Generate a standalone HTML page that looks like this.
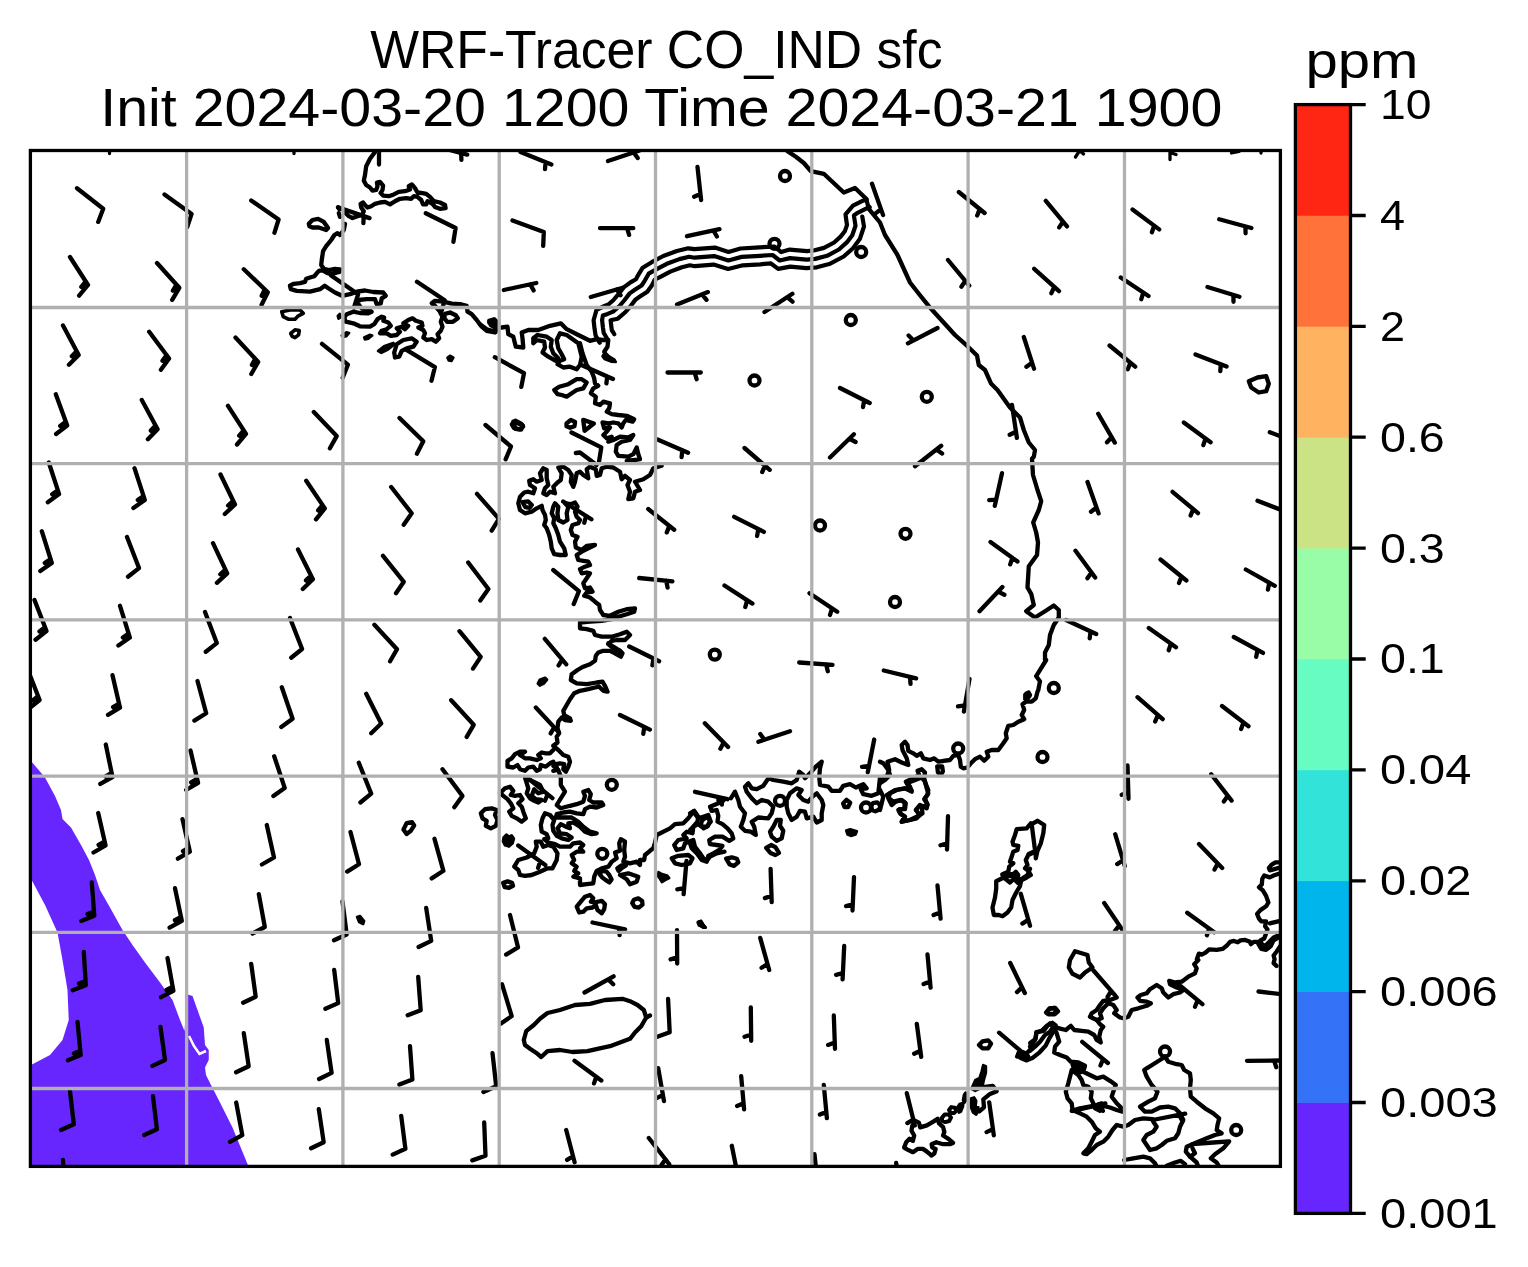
<!DOCTYPE html><html><head><meta charset="utf-8"><title>WRF-Tracer CO_IND sfc</title>
<style>html,body{margin:0;padding:0;background:#fff}svg{display:block}text{font-family:"Liberation Sans",sans-serif;fill:#000}svg{will-change:transform}</style></head><body>
<svg width="1528" height="1267" viewBox="0 0 1528 1267">
<rect width="1528" height="1267" fill="#fff"/>
<defs><clipPath id="c"><rect x="30.4" y="150.5" width="1250" height="1015.9"/></clipPath></defs>
<g clip-path="url(#c)">
<polygon points="31,761 45,777.5 55,796 61,810 62.5,819 71,827.5 81,845 89,860 95,875 100,890 110,907.5 122.5,930 132.5,945 145,962.5 160,982.5 172.5,1000 180,1020 184.5,1031 186,1012 186,994 192.5,996 197.5,1010 203.75,1027.5 205,1045 208.75,1050 208.75,1060 205,1067.5 206,1075 211,1085 220,1102.5 232.5,1127.5 247.5,1164 250,1170 20,1170 20,1066 31,1065 50,1055 62.5,1040 68.75,1020 67.5,990 62.5,960 57.5,932.5 45,905 31,878.75 20,860 20,750" fill="#6826fe"/>
<path d="M189,1036 L194,1046 L199.5,1054 L206,1051" stroke="#fff" stroke-width="2.5" fill="none"/>
<path d="M375,151.9 L370,158.8 L366.2,166.2 L365,175 L363.8,180.6 L366.2,185 L370,187.5 L372.5,190.6 L376.2,190 L377.5,186.2 L376.9,182.5 L380,181.9 L383.1,185.6 L382.5,190 L380.6,193.1 L383.1,195.6 L388.8,196.2 L393.8,194.4 L398.8,191.9 L405,191.2 L410,189.4 L408.8,186.2 L411.9,184.4 L415,188.1 L417.5,192.5 L422.5,193.1 L426.2,193.8 L430,196.9 L433.8,201.2 L440,202.5 L445,205 L445.6,208.1 L440,208.8 L435,206.9 L432.5,203.8 L427.5,201.2 L426.2,204.4 L423.1,204.4 L421.2,200 L417.5,196.9 L413.8,196.2 L411.2,198.8 L406.2,198.1 L400,198.8 L395,201.2 L390,204.4 L385,201.9 L380,202.5 L375,203.8 L371.2,206.2 L367.5,207.5 L365,205 L363.1,202.5 L360.6,203.8 L361.2,207.5 L363.8,211.2 L361.9,215 L357.5,216.2 L352.5,218.1 L348.8,216.2 L345,212.5 L343.8,210" fill="none" stroke="#000" stroke-width="4.3" stroke-linejoin="round" stroke-linecap="round"/>
<path d="M338.1,207.5 L339.4,209.4" fill="none" stroke="#000" stroke-width="4.3" stroke-linejoin="round" stroke-linecap="round"/>
<path d="M338.8,213.1 L340,216.9" fill="none" stroke="#000" stroke-width="4.3" stroke-linejoin="round" stroke-linecap="round"/>
<path d="M345,223.8 L343.8,230 L340,235 L337.5,233.1 L334.4,235 L331.2,240 L326.2,246.2 L323.1,251.2 L321.9,258.8 L321.2,265 L323.8,268.8 L328.8,270 L335,268.8 L340,269.4 L339.4,271.9 L332.5,273.8 L327.5,273.1 L323.1,270.6 L319.4,270.6 L316.9,273.1 L314.4,276.2 L310,277.5 L306.2,278.8 L305,281.9 L300,283.1 L293.8,283.8 L290,285.6" fill="none" stroke="#000" stroke-width="4.3" stroke-linejoin="round" stroke-linecap="round"/>
<path d="M308.8,223.8 L312.5,220 L318.1,218.8 L323.8,221.9 L328.1,228.1 L326.2,230 L318.8,227.5 L312.5,227.5 L309.4,226.2Z" fill="none" stroke="#000" stroke-width="4.3" stroke-linejoin="round" stroke-linecap="round"/>
<path d="M290,285.8 L290.8,289.2 L296.7,290.8 L310,291.7 L320,289.2 L324.7,285.8 L328.3,288.3 L335,292.5 L342,295.8 L350,294.2 L356.7,291.7 L365,290.5 L373.3,292 L383.3,292.5 L385.8,295.8 L381.7,298.3 L380.8,303.3 L376.7,304.2 L375,299.2 L366.7,299.2 L358.3,300 L358.3,304.2 L361.7,308.3 L368.3,310 L371.7,311.7 L368.3,313.3 L360,313 L353.3,311.7 L346.7,314.2 L344.2,317.5 L345.8,321.7 L353.3,323.3 L360,326.3 L370,326.7 L374.2,324.2 L377.5,319.2 L381.7,316.7 L384.2,317.5 L383.3,320.8 L388.3,322.5 L390.8,325.8 L386.7,329.2 L381.7,330.8 L380,333.3 L386.7,333.3 L390.8,335.8 L396.7,335 L400,331.7 L396.7,328.3 L401.7,326.7 L405,329.2 L408.3,325.8 L403.3,323.3 L408.3,320 L412.5,318.3 L415.8,320.8 L421.7,322.5 L422.5,325.8 L418.3,327.5 L423.3,330 L425,333.3 L423.3,337.5 L426.7,340 L431.7,339.2 L435.8,341.7 L439.2,338.3 L437.5,334.2 L440.8,330.8 L442.5,326.7 L440.8,321.7 L442.5,316.7 L440,311.7 L435,305.8 L431.7,303.3 L435,300.8 L443.3,301.7 L451.7,303.7 L460,304.2 L466.7,305.8 L467.5,311.7 L471.7,314.2 L476.7,320 L481.7,326.7 L486.7,330.8 L495,332.5 L496.7,328.3 L490.8,325 L489.2,320.8 L494.2,319.2 L498.3,323.3" fill="none" stroke="#000" stroke-width="4.3" stroke-linejoin="round" stroke-linecap="round"/>
<path d="M445,313.9 L450.1,312.5 L455.8,315.3 L457.9,318.2 L452.9,321.8 L447.2,321.8 L444.3,318.2Z" fill="none" stroke="#000" stroke-width="4.3" stroke-linejoin="round" stroke-linecap="round"/>
<path d="M396.7,344.2 L403.3,340 L411.7,338.3 L416.7,341.7 L413.3,346.7 L406.7,348.3 L401.7,350.8 L399.2,356.7 L395,357.5 L394.2,352.5Z" fill="none" stroke="#000" stroke-width="4.3" stroke-linejoin="round" stroke-linecap="round"/>
<path d="M281.7,311.7 L290,310 L300,310 L303.3,313.3 L298.3,315.8 L295,319.2 L288.3,319.2 L283.3,316.7Z" fill="none" stroke="#000" stroke-width="3.6" stroke-linejoin="round" stroke-linecap="round"/>
<path d="M290.7,333.4 L295,329.8 L299.3,330.5 L298.6,334.8 L295,337.7 L292.2,336.3Z" fill="none" stroke="#000" stroke-width="3.6" stroke-linejoin="round" stroke-linecap="round"/>
<path d="M511.8,424.3 L515.4,420.8 L521.1,423.6 L523.2,426.5 L519.6,429.4 L513.9,427.9Z" fill="none" stroke="#000" stroke-width="4.3" stroke-linejoin="round" stroke-linecap="round"/>
<path d="M378,350.9 L384,346.2 L393.3,342.9 L394.6,344.2 L388,349.6 L381.3,352.9Z" fill="#000" stroke="#000" stroke-width="2.6" stroke-linejoin="round" stroke-linecap="round"/>
<path d="M364.2,337.4 L369.6,334.8 L372.2,335.4 L368.2,338.8 L364.9,339.4Z" fill="#000" stroke="#000" stroke-width="2.6" stroke-linejoin="round" stroke-linecap="round"/>
<path d="M341.7,335.6 L346.4,332.3 L349.1,333 L346.4,336.3 L343.1,337Z" fill="#000" stroke="#000" stroke-width="2.6" stroke-linejoin="round" stroke-linecap="round"/>
<path d="M447.4,357.7 L450,355.7 L453.4,357.7 L451.4,361 L448.7,360.4Z" fill="#000" stroke="#000" stroke-width="2.6" stroke-linejoin="round" stroke-linecap="round"/>
<path d="M337.8,316 L339.8,314 L340.5,317.3 L338.5,318.6Z" fill="#000" stroke="#000" stroke-width="2.6" stroke-linejoin="round" stroke-linecap="round"/>
<path d="M480,324.2 L486.7,329.2 L495.8,331.7 L496.7,325.8 L492.5,320.8 L489.2,322.5" fill="none" stroke="#000" stroke-width="4.3" stroke-linejoin="round" stroke-linecap="round"/>
<path d="M501.7,327.5 L507.5,326.7 L508.3,334.2 L513.3,336.7 L515.8,346.7 L523.3,347.5 L522.5,338.3 L521.7,332.5 L528.3,330 L538.3,330 L550,325.8 L560.8,323.3 L566.7,329.2 L578.3,335 L590,340.8 L596.7,339.2" fill="none" stroke="#000" stroke-width="4.3" stroke-linejoin="round" stroke-linecap="round"/>
<path d="M596.7,339.2 L602.5,340 L608.3,340 L607.5,346.7 L604.2,351.7" fill="none" stroke="#000" stroke-width="4.3" stroke-linejoin="round" stroke-linecap="round"/>
<path d="M605.1,352.3 L602.5,356.3 L604.5,359 L611.1,361.6 L615.8,362 L614.5,359.6 L609.1,356.3Z" fill="#000" stroke="#000" stroke-width="2.6" stroke-linejoin="round" stroke-linecap="round"/>
<path d="M560,333.3 L566.7,335 L578.3,343.3 L581.7,356.7 L580,365 L576.7,369.2 L570,366.7 L563.3,367.5 L557.5,364.2 L560,360.8 L564.2,359.2 L561.7,354.2 L558.3,348.3 L556.7,340Z" fill="none" stroke="#000" stroke-width="4.3" stroke-linejoin="round" stroke-linecap="round"/>
<path d="M533.3,338.3 L537.5,335 L546.7,336.7 L551.7,340 L550.8,346.7 L553.3,353.3 L558.3,358.3 L555.8,360.8 L548.3,356.7 L542.5,352.5 L545,347.5 L544.2,341.7 L536.7,340 L533.3,343.3Z" fill="none" stroke="#000" stroke-width="4.3" stroke-linejoin="round" stroke-linecap="round"/>
<path d="M554.2,390 L559.2,386.7 L568.3,384.2 L576.7,379.2 L581.7,379.2 L586.7,382.5 L583.3,388.3 L576.7,390 L571.7,393.3 L566.7,396.7 L561.7,395 L557.5,394.2Z" fill="none" stroke="#000" stroke-width="4.3" stroke-linejoin="round" stroke-linecap="round"/>
<path d="M580,343.3 L582.5,353.3 L586.7,365 L591.7,371.7 L594.2,378.3 L595,383.3 L598.3,385.8 L593.3,388.3 L590.8,393.3 L595.8,396.7 L595,403.3 L600,405 L603.3,401.7 L610,403.3 L609.2,408.3 L606.7,411.7 L611.7,414.2 L618.3,415 L626.7,415.8 L634.2,419.2 L632.5,421.7 L625.8,420 L623.3,423.3 L621.7,427.5 L618.3,423.3 L613.3,422.5 L608.3,423.3 L602.5,422.5 L604.2,428.3 L610,427.5 L606.7,431.7 L603.3,435 L606.7,438.3 L611.7,436.7 L608.3,441.7 L613.3,440 L620,436.7 L628.3,437.5 L633.3,435 L630,440 L621.7,441.7 L616.7,445 L615.8,451.7 L618.3,455.8 L628.3,456.7 L633.3,454.2 L636.7,447.5 L638.3,454.2 L640,459.2 L634.2,460 L626.7,460.8" fill="none" stroke="#000" stroke-width="4.3" stroke-linejoin="round" stroke-linecap="round"/>
<path d="M566.5,423.5 L570.8,419.9 L575.1,422 L574.4,426.3 L570.1,427.8 L566.5,426.3Z" fill="none" stroke="#000" stroke-width="4.3" stroke-linejoin="round" stroke-linecap="round"/>
<path d="M583.2,419.9 L593.9,423.5 L584.6,430.7Z" fill="none" stroke="#000" stroke-width="4.3" stroke-linejoin="round" stroke-linecap="round"/>
<path d="M513.3,421.6 L522.6,425.2 L521.2,429.5 L515.4,428.8Z" fill="none" stroke="#000" stroke-width="4.3" stroke-linejoin="round" stroke-linecap="round"/>
<path d="M661.7,465.8 L653.3,468.3 L650,475 L643.3,479.2 L635,481.7 L640,490 L635,491.7 L633.3,498.3 L628.3,499.2 L630,491.7 L627.5,485 L630,480 L625,475.8 L621.7,479.2 L620,471.7 L613.3,467.5 L606.7,466.7 L601.7,468.3 L600,475 L596.7,475.8 L595.8,469.2 L590,466.7 L586.7,469.2 L588.3,478.3 L583.3,475 L580,471.7 L576.7,473.3 L575,481.7 L573.3,486.7 L570.8,481.7 L571.7,475 L568.3,470 L563.3,466.7 L558.3,467.5 L561.7,473.3 L560.8,480 L557.5,482.5 L553.3,486.7 L555,493.3 L550,491.7 L546.7,495 L543.3,493.3 L545,488.3 L548.3,485 L546.7,478.3 L546.7,470 L543.3,468.3 L540,473.3 L541.7,480 L536.7,481.7 L533.3,479.2 L529.2,480.8 L530,485 L535,488.3 L533.3,493.3 L528.3,491.7 L524.2,492.5 L520,496.7 L518.3,503.3 L520,510 L525,513.3 L531.7,511.7 L536.7,508.3 L541.7,505.8 L542.5,510 L545,515 L545.8,520 L544.2,525 L546.7,528.3 L549.2,535 L550.8,541.7 L551.7,548.3 L554.2,554.2 L560,555 L565.8,555 L564.2,548.3 L560,541.7 L558.3,535 L555.8,528.3 L553.3,523.3 L554.2,518.3 L551.7,513.3 L553.3,506.7 L555,503.3 L558.3,506.7 L557.5,513.3 L558.3,520 L563.3,522.5 L567.5,520 L566.7,513.3 L568.3,506.7 L565,503.3 L570.8,504.2 L575,502.5 L577.5,506.7 L575,511.7 L576.7,516.7 L580,520 L578.3,523.3 L572.5,525 L570.8,530 L572.5,535 L577.5,536.7 L575,541.7 L575.8,547.5 L581.7,550 L586.7,545.8 L595,545 L588.3,548.3 L581.7,551.7 L576.7,555 L578.3,560 L583.3,560.8 L588.3,561.7 L590,565 L585,566.7 L580,569.2 L581.7,573.3 L586.7,572.5 L590,573.3 L586.7,578.3 L583.3,583.3 L585,588.3 L590,587.5 L592.5,591.7 L586.7,592.5 L584.2,595.8 L590,597.5 L595,601.7 L599.2,605 L600,610 L603.3,615 L610,615.8 L618.3,611.7 L626.7,609.2 L635,608.3 L634.2,611.7 L626.7,614.2 L618.3,616.7 L611.7,619.2 L601.7,620.8 L590,621.7 L580,622.5 L580,628.3 L586.7,629.2 L593.3,630.8 L595,635 L601.7,636.7 L611.7,636.7 L620,634.2 L626.7,631.7 L630,635 L625,640 L616.7,640 L611.7,640.8 L608.3,644.2 L613.3,648.3 L620,651.7" fill="none" stroke="#000" stroke-width="4.3" stroke-linejoin="round" stroke-linecap="round"/>
<path d="M522.5,502.1 L528.2,501.4 L531.8,505 L529.6,507.8 L525.4,507.1Z" fill="none" stroke="#000" stroke-width="4.3" stroke-linejoin="round" stroke-linecap="round"/>
<path d="M620,650.8 L622.5,653.3 L620.8,656.7 L615,653.3 L610,650.8 L603.3,650.8 L598.3,652.5 L595.8,655.8 L595,660.8 L590,664.2 L583.3,666.7 L577.5,670 L571.7,674.2 L570.8,680 L576.7,683.3 L586.7,684.2 L596.7,682.5 L602.5,681.7 L605,685.8 L607.5,691.7 L603.3,690.8 L599.2,686.7 L595,687.5 L588.3,689.2 L580,690.8 L574.2,693.3 L570,699.2 L566.7,705 L563.3,710.8 L564.2,715 L570,718.3 L570.8,720.8 L565,720 L561.7,717.5 L558.3,721.7 L557.5,728.3 L559.2,733.3 L556.7,736.7 L557.5,742.5 L553.3,745.8 L558.3,750 L563.3,755 L568.3,756.7 L570,761.7 L568.3,766.7 L565.8,771.7 L563.3,769.2 L564.2,764.2 L560,763.3 L555.8,764.2 L557.5,770 L553.3,770.8" fill="none" stroke="#000" stroke-width="4.3" stroke-linejoin="round" stroke-linecap="round"/>
<path d="M608.3,643.3 L613.3,646.7 L620,650.8" fill="none" stroke="#000" stroke-width="4.3" stroke-linejoin="round" stroke-linecap="round"/>
<path d="M553.3,750 L550,753.3 L545.8,753.3 L541.7,752.5 L538.3,755 L540.8,758.3 L536.7,760 L530,758.3 L525,758.3 L520,755 L525,751.7 L520,751.7 L515,754.2 L511.7,758.3 L507.5,760.8 L507.5,766.7 L513.3,767.5 L517.5,765 L520,769.2 L525,770.8 L528.3,767.5 L533.3,766.7 L536.7,770.8 L540,769.2 L540.8,765 L545.8,766.7 L550,763.3 L553.3,761.7" fill="none" stroke="#000" stroke-width="4.3" stroke-linejoin="round" stroke-linecap="round"/>
<path d="M537.8,683.7 L539.8,679.7 L545.1,677.7 L547.1,679.7 L543.8,683.7 L539.8,685.7Z" fill="#000" stroke="#000" stroke-width="2.6" stroke-linejoin="round" stroke-linecap="round"/>
<path d="M599.7,342.8 L598.7,341.1 L595.6,335.5 L594.5,328.4 L593.6,320.2 L596.5,309.9 L604.6,306 L608.4,304.5 L613.5,300 L617.6,295.2 L623.7,287.4 L630.5,282.4 L635.9,279.2 L637.4,276.4 L642.7,267.7 L651.7,262.2 L663.3,256 L676.9,251 L688.3,248.3 L694.4,249.2 L714.9,247.6 L728.5,252 L740.5,248.5 L759.5,247.3 L774.6,246.7 L781.2,252.1 L789.7,249.6 L806.9,251.2 L813.6,250.5 L824,247.9 L834.1,242.5 L840.6,236.6 L844.8,231.3 L847,225.1 L845.5,214.4 L853,205.7 L863,200.7 L866.6,199.3" fill="none" stroke="#000" stroke-width="4.2" stroke-linejoin="round" stroke-linecap="round"/>
<path d="M607,338.5 L606,336.8 L603.7,332.9 L602.9,327.3 L602.1,320.2 L602.9,315.5 L607.6,313.9 L613.1,311.6 L619.5,306 L624.2,300.5 L629.7,293.4 L635.2,289.5 L641.6,285.5 L644.7,280.8 L648.7,273.7 L655.8,269.7 L666.8,263.8 L679.4,259.1 L689.1,256.8 L694.6,257.7 L714.2,256.1 L728.3,260.5 L741.7,256.9 L760,255.8 L772.6,255 L779.7,260.5 L790,258.1 L806.6,259.7 L815.2,258.9 L827.1,255.8 L838.9,249.5 L846.8,242.4 L852.3,235.2 L855.5,225.8 L853.9,215.5 L857.1,213.1 L866.6,208.4 L869.7,207.2" fill="none" stroke="#000" stroke-width="4.2" stroke-linejoin="round" stroke-linecap="round"/>
<path d="M614.3,334.2 L613.3,332.5 L611.8,330.3 L611.3,326.2 L610.6,320.2 L617.8,318.7 L625.5,312 L630.8,305.8 L635.7,299.4 L639.9,296.6 L647.3,291.8 L652,285.2 L654.7,279.7 L659.9,277.2 L670.3,271.6 L681.9,267.2 L689.9,265.3 L694.8,266.2 L713.5,264.6 L728.1,269 L742.9,265.3 L760.5,264.3 L770.6,263.3 L778.2,268.9 L790.3,266.6 L806.3,268.2 L816.8,267.3 L830.2,263.7 L843.7,256.5 L853,248.2 L859.8,239.1 L864,226.5 L862.3,216.6" fill="none" stroke="#000" stroke-width="4.2" stroke-linejoin="round" stroke-linecap="round"/>
<path d="M787.5,151.2 L796.2,157 L803.8,163 L810.8,171.2 L823.8,173.8 L843.8,192.5 L855,188 L866.2,198.8 L868.8,208.8 L880,222.5 L885,235 L897.5,255 L910,282.5 L918.8,293.8 L928.8,306.2 L955,335 L967.5,346.2 L977,355.5 L978.8,365 L985,370 L991.2,383.8 L997.5,390 L1010,407.5 L1020,417.5 L1023.8,430 L1028.8,442.5 L1035,450 L1033.8,456.8 L1032,458.8 L1033,475 L1037.5,490 L1041.2,501.2 L1038.8,510 L1033.2,522.5 L1036.2,532.5 L1038,542.5 L1037,555 L1028.8,566.2 L1027.5,587.5 L1031.2,593.8 L1033.8,605 L1026.2,611.2 L1035,617.5 L1045,611.2 L1053.8,605.5 L1058.8,610 L1058.8,617.5 L1053.8,625 L1050,635 L1048.8,645 L1045,652.5 L1045,660 L1046.2,660 L1036.2,676.2 L1040,681.2 L1038.3,690 L1037.5,691.7 L1035.8,698.3 L1031.7,701.7 L1025.8,701.7 L1022.5,704.2 L1024.2,710 L1021.7,715 L1024.2,719.2 L1018.3,721.7 L1013.3,725 L1008.3,725.8 L1005.8,733.3 L1006.7,738.3 L1003.3,743.3 L998.3,750 L991.7,750 L986.7,751.7 L988.3,756.7 L984.2,760.8 L980,756.7 L975,759.2 L970.8,763.3 L967.5,767.5 L963.3,768.3 L960.8,766.7 L960,760 L958.3,755 L953.3,755.8 L950,760 L943.3,760.8 L944.5,760.8 L938.3,761.7 L934.2,758.3 L930,760 L923.3,758.3 L920.8,753.3 L916.7,755.8 L913.3,753.3 L908.3,750.8 L907.5,745 L905,741.7 L901.7,745 L902.5,750 L906.7,758.3 L908.3,765 L901.7,762.5 L895,759.2 L887.5,761.7 L889.2,770 L886.7,776.7 L880,777.5 L879.2,785 L878.3,793.3 L871.7,795.8 L863.3,794.2 L860.8,789.2 L866.7,788.3 L863.3,784.2 L855.8,787.5 L850,784.2 L843.3,785.8 L840,790.8 L831.7,790.8 L828.3,786.7 L820,785 L819.2,776.7 L820,768.3 L821.7,761.7 L815.8,766.7 L810,773.3 L805,778.3 L803.3,775 L799.2,771.7 L796.7,780 L791.7,783.3 L783.3,781.7 L773.3,780 L768.3,778.3 L766.7,780.8 L763.3,785.8 L756.7,789.2 L751.7,788.3 L748.3,783.3 L745,786.7 L746.7,791.7 L751.7,798.3 L756.7,803.3 L761.7,800 L768.3,801.7 L773.3,806.7 L771.7,813.3 L768.3,818.3 L758.3,817.5 L751.7,821.7 L754.2,826.7 L755.8,835 L750.8,831.7 L745,830.8 L740.8,826.7 L743.3,820 L745,813.3 L740,806.7 L738.3,800 L735,791.7 L730.8,798.3" fill="none" stroke="#000" stroke-width="4.3" stroke-linejoin="round" stroke-linecap="round"/>
<path d="M1024.4,694.3 L1028.4,692.3 L1030.4,696.3 L1027.4,700.3 L1024.4,699.3Z" fill="#000" stroke="#000" stroke-width="2.6" stroke-linejoin="round" stroke-linecap="round"/>
<path d="M690,813.3 L694.2,810.8 L698.3,816.7 L697.5,821.7 L693.3,826.7 L690,830" fill="none" stroke="#000" stroke-width="4.3" stroke-linejoin="round" stroke-linecap="round"/>
<path d="M702.2,820.4 L706.5,816.8 L710,820.4 L707.9,826.1 L703.6,828.3 L700.7,824.7Z" fill="none" stroke="#000" stroke-width="4.3" stroke-linejoin="round" stroke-linecap="round"/>
<path d="M711.7,810.8 L716.7,810 L718.3,815.8 L717.5,821.7 L722.5,824.2 L727.5,828.3 L731.7,833.3 L733.3,838.3 L729.2,840.8 L722.5,836.7 L715,836.7 L709.2,840 L710,844.2 L716.7,845 L722.5,845.8 L719.2,850 L713.3,853.3 L708.3,855.8 L706.7,861.7 L701.7,860 L696.7,853.3 L691.7,848.3 L690,843.3" fill="none" stroke="#000" stroke-width="4.3" stroke-linejoin="round" stroke-linecap="round"/>
<path d="M726.1,858.7 L731.8,857.3 L736.8,858.7 L738.3,862.3 L734,865.9 L729.7,864.5Z" fill="none" stroke="#000" stroke-width="4.3" stroke-linejoin="round" stroke-linecap="round"/>
<path d="M786.7,800 L790,793.3 L796.7,788.3 L801.7,790 L798.3,795 L803.3,800 L808.3,801.7 L812.5,796.7 L816.7,793.3 L821.7,800 L823.3,805 L821.7,813.3 L821.7,820 L816.7,822.5 L813.3,816.7 L806.7,818.3 L805,811.7 L800,810.8 L796.7,816.7 L791.7,820 L788.3,813.3 L786.7,806.7Z" fill="none" stroke="#000" stroke-width="4.3" stroke-linejoin="round" stroke-linecap="round"/>
<path d="M776.7,820 L780.8,820 L780,825.8 L783.3,830.8 L781.7,838.3 L776.7,840.8 L771.7,836.7 L770,831.7 L773.3,826.7Z" fill="none" stroke="#000" stroke-width="4.3" stroke-linejoin="round" stroke-linecap="round"/>
<path d="M766.1,847.9 L771.1,845 L775.4,847.2 L779,852.9 L775.4,855 L770.4,852.9Z" fill="none" stroke="#000" stroke-width="4.3" stroke-linejoin="round" stroke-linecap="round"/>
<path d="M886.7,795 L895,790 L905,788.3 L911.7,790.8 L906.7,783.3 L913.3,780.8 L921.7,777.5 L925,781.7 L926.7,788.3 L928.3,793.3 L925,798.3 L927.5,805 L921.7,807.5 L922.5,813.3 L916.7,816.7 L910,820 L901.7,821.7 L905,816.7 L900,813.3 L898.3,810 L904.2,808.3 L905,802.5 L900,800 L893.3,801.7 L889.2,798.3Z" fill="none" stroke="#000" stroke-width="4.3" stroke-linejoin="round" stroke-linecap="round"/>
<path d="M843.1,803.4 L846.6,799.8 L850.2,802.7 L848.1,807 L844.5,807Z" fill="none" stroke="#000" stroke-width="4.3" stroke-linejoin="round" stroke-linecap="round"/>
<path d="M871.2,806.7 L872.9,803.1 L877.2,802.4 L880.4,805.3 L879.4,809.6 L875.4,811.3 L872.2,810.3Z" fill="none" stroke="#000" stroke-width="4.3" stroke-linejoin="round" stroke-linecap="round"/>
<path d="M846.2,830.5 L850.2,829.2 L856.9,831.2 L855.6,834.5 L850.9,835.9 L847.6,834.5Z" fill="#000" stroke="#000" stroke-width="2.6" stroke-linejoin="round" stroke-linecap="round"/>
<path d="M697.6,922.2 L700.9,920.9 L702.9,924.2 L705.6,927.6 L702.3,926.9 L698.9,925.6Z" fill="#000" stroke="#000" stroke-width="2.6" stroke-linejoin="round" stroke-linecap="round"/>
<path d="M711.7,810.8 L710,806.7 L718.3,803.3 L723.3,800.8 L718.3,800" fill="none" stroke="#000" stroke-width="4.3" stroke-linejoin="round" stroke-linecap="round"/>
<path d="M937.2,766.5 L942.2,766.5 L942.9,771.5 L940.7,775.1 L937.9,772.2Z" fill="none" stroke="#000" stroke-width="4.3" stroke-linejoin="round" stroke-linecap="round"/>
<path d="M905.8,781.7 L913.3,778.3 L919.2,775 L917.5,770.8 L921.7,769.2 L925,772.5 L924.2,778.3 L925.8,784.2 L928.3,790 L927.5,795 L924.2,799.2 L927.5,804.2 L926.7,808.3 L920,805 L915.8,810 L920,815 L916.7,818.3 L910,820 L901.7,821.7 L905,816.7 L900.8,814.2 L899.2,809.2 L905,809.2 L905.8,803.3 L901.7,800 L895.8,801.7 L891.7,805 L888.3,798.3 L890,793.3 L896.7,790 L905,788.3 L911.7,791.7 L910,786.7Z" fill="none" stroke="#000" stroke-width="4.3" stroke-linejoin="round" stroke-linecap="round"/>
<path d="M880,761.7 L883.3,763.3 L888.3,770 L890,775 L885,780 L880,783.3" fill="none" stroke="#000" stroke-width="4.3" stroke-linejoin="round" stroke-linecap="round"/>
<path d="M880,790 L883.3,796.7 L881.7,803.3 L880,810" fill="none" stroke="#000" stroke-width="4.3" stroke-linejoin="round" stroke-linecap="round"/>
<path d="M1025.6,692.9 L1028.9,691.5 L1030.9,694.9 L1028.2,696.9 L1025.8,695.5Z" fill="#000" stroke="#000" stroke-width="2.6" stroke-linejoin="round" stroke-linecap="round"/>
<path d="M1031.7,824.2 L1037.5,820.8 L1044.2,825 L1043.3,833.3 L1040.8,843.3 L1037.5,850.8 L1035.8,858.3" fill="none" stroke="#000" stroke-width="4.3" stroke-linejoin="round" stroke-linecap="round"/>
<path d="M1030.8,823.3 L1026.7,828.3 L1016.7,829.2 L1015,835 L1012.5,841.7 L1013.3,845 L1018.3,845.8 L1017.5,850 L1013.3,851.7 L1011.7,856.7 L1010,861.7 L1013.3,863.3 L1009.2,866.7 L1008.3,871.7 L1002.5,874.2 L1004.2,876.7 L1011.7,875.8 L1015.8,871.7 L1018.3,875 L1015,880 L1018.3,883.3 L1021.7,880 L1026.7,877.5 L1030.8,875 L1028.3,870.8 L1025,868.3 L1027.5,865 L1025.8,860 L1028.3,855 L1033.3,852.5" fill="none" stroke="#000" stroke-width="4.3" stroke-linejoin="round" stroke-linecap="round"/>
<path d="M996.2,881.2 L1003.8,877.5 L1010,882.5 L1015,877.5 L1021.2,880 L1020,886.2 L1016.2,892.5 L1012.5,900 L1011.2,907.5 L1007.5,912.5 L1002.5,916.2 L998.8,915 L993.8,915 L992.5,907.5 L995,897.5 L996.2,888.8Z" fill="none" stroke="#000" stroke-width="4.3" stroke-linejoin="round" stroke-linecap="round"/>
<path d="M1002.5,875 L1015,873.8 L1020,880 L1027.5,875 L1030,868.8" fill="none" stroke="#000" stroke-width="4.3" stroke-linejoin="round" stroke-linecap="round"/>
<path d="M1248.8,381.2 L1257.5,377.5 L1266.2,376.2 L1268.8,383.8 L1266.2,391.2 L1258.8,392.5 L1251.2,387.5Z" fill="none" stroke="#000" stroke-width="4.3" stroke-linejoin="round" stroke-linecap="round"/>
<path d="M553.3,765.8 L558.3,770 L560.8,776.7 L560.8,785 L565,791.7 L560.8,798.3 L556.7,805 L560.8,808.3 L570,805.8 L576.7,804.2 L583.3,801.7 L585,795.8 L583.3,791.7 L588.3,790 L590.8,794.2 L589.2,800 L593.3,802.5 L601.7,802.5 L603.3,805 L596.7,807.5 L590,806.7 L585,809.2 L583.3,814.2 L576.7,813.3 L570,811.7 L563.3,812.5 L556.7,814.2 L555.8,817.5 L563.3,817.5 L571.7,817.5 L578.3,821.7 L583.3,826.7 L590,831.7 L596.7,833.3 L591.7,834.2 L585,831.7 L580,826.7 L573.3,822.5 L568.3,823.3 L570,828.3 L565.8,826.7 L560.8,824.2 L557.5,828.3 L560,833.3 L566.7,834.2 L571.7,837.5 L568.3,840 L561.7,838.3 L556.7,835.8 L553.3,830.8 L552.5,825 L554.2,820 L550,815 L545,813.3 L542.5,818.3 L540.8,825 L541.7,831.7 L546.7,834.2 L548.3,838.3 L544.2,839.2 L548.3,842.5 L555,844.2 L560,846.7 L570,846.7 L573.3,843.3 L580,842.5 L583.3,845 L580,848.3 L583.3,851.7 L576.7,851.7 L571.7,855 L574.2,860 L571.7,863.3 L576.7,866.7 L574.2,870.8 L578.3,873.3 L573.3,876.7 L580,878.3 L580,885 L586.7,884.2 L593.3,883.3 L594.2,876.7 L596.7,870.8 L601.7,868.3 L608.3,866.7 L611.7,861.7 L616.7,858.3 L615,852.5 L620,850.8 L619.2,843.3 L620.8,839.2 L625,841.7 L624.2,850 L625,856.7 L623.3,861.7 L630,863.3 L636.7,861.7 L640,865 L640,860 L644.2,860 L645,855 L650,850.8 L653.3,848.3 L655,842.5 L656.7,835 L665,830.8 L670,828.3 L675,824.2 L683.3,823.3 L688.3,818.3 L693.3,811.7 L698.3,818.3 L703.3,816.7 L708.3,815 L710.8,821.7 L706.7,826.7 L701.7,826.7 L698.3,824.2 L693.3,826.7 L692.5,833.3 L686.7,831.7 L683.3,835 L686.7,838.3 L678.3,840 L674.2,845 L676.7,850 L683.3,848.3 L685,843.3 L693.3,840 L695,846.7 L700,853.3 L703.3,858.3 L706.7,860.8 L710,856.7 L716.7,853.3 L724.5,851.7" fill="none" stroke="#000" stroke-width="4.3" stroke-linejoin="round" stroke-linecap="round"/>
<path d="M671.7,858.3 L678.3,855.8 L688.3,855 L692.5,858.3 L690,863.3 L681.7,865 L675,863.3Z" fill="none" stroke="#000" stroke-width="4.3" stroke-linejoin="round" stroke-linecap="round"/>
<path d="M514.2,866.7 L518.3,860 L526.7,857.5 L534.2,853.3 L536.7,846.7 L535.8,841.7 L540.8,841.7 L543.3,846.7 L548.3,845 L553.3,846.7 L557.5,853.3 L556.7,860 L552.5,868.3 L547.5,868.3 L540,871.7 L531.7,875 L525,875.8 L520,875 L518.3,870Z" fill="none" stroke="#000" stroke-width="4.3" stroke-linejoin="round" stroke-linecap="round"/>
<path d="M503.6,837.3 L506.3,834.6 L509,836.6 L511.6,835.3 L513.9,838.6 L512.6,843.3 L509,846.6 L505,845.3 L503,841.3Z" fill="#000" stroke="#000" stroke-width="2.6" stroke-linejoin="round" stroke-linecap="round"/>
<path d="M503.3,882.8 L507.6,881.4 L511.9,882.8 L512.9,885.7 L509,887.8 L504.7,887.1Z" fill="none" stroke="#000" stroke-width="4.5" stroke-linejoin="round" stroke-linecap="round"/>
<path d="M599.4,873.8 L602.2,870.9 L606.5,871.6 L609.4,875.2 L611.6,879.5 L609.4,882.4 L605.8,880.2 L602.2,877.3Z" fill="none" stroke="#000" stroke-width="4.3" stroke-linejoin="round" stroke-linecap="round"/>
<path d="M617.3,868.2 L621.6,865.4 L625.9,865.4 L621.6,868.2 L618.7,871.1Z" fill="none" stroke="#000" stroke-width="4.3" stroke-linejoin="round" stroke-linecap="round"/>
<path d="M620,875 L628.3,873.3 L638.3,876.7 L636.7,881.7 L630,884.2 L626.7,879.2Z" fill="none" stroke="#000" stroke-width="4.3" stroke-linejoin="round" stroke-linecap="round"/>
<path d="M500,793.3 L505,788.3 L510,786.7 L513.3,790.8 L510.8,795 L515,795.8 L520,795 L522.5,799.2 L518.3,803.3 L521.7,806.7 L523.3,811.7 L525.8,818.3 L521.7,821.7 L516.7,818.3 L511.7,815.8 L509.2,811.7 L513.3,808.3 L510.8,803.3 L507.5,799.2 L503.3,795.8Z" fill="none" stroke="#000" stroke-width="4.3" stroke-linejoin="round" stroke-linecap="round"/>
<path d="M480.8,813.3 L485,809.2 L491.7,808.3 L496.7,810 L495,815 L497.5,820 L495.8,825.8 L490.8,828.3 L485.8,825.8 L486.7,820.8 L482.5,818.3Z" fill="none" stroke="#000" stroke-width="4.3" stroke-linejoin="round" stroke-linecap="round"/>
<path d="M632.2,903 L633.9,899.7 L638.2,898.3 L642.2,901.1 L642.5,904.7 L638.9,907.6 L634.6,906.9Z" fill="none" stroke="#000" stroke-width="4.3" stroke-linejoin="round" stroke-linecap="round"/>
<path d="M576.7,906.7 L580.8,901.7 L585,896.7 L590,895 L593.3,898.3 L590.8,901.7 L594.2,902.5 L601.7,900.8 L605,904.2 L604.2,909.2 L601.7,913.3 L597.5,910 L595.8,905 L592.5,907.5 L586.7,908.3 L583.3,911.7 L579.2,912.5Z" fill="none" stroke="#000" stroke-width="4.3" stroke-linejoin="round" stroke-linecap="round"/>
<path d="M658.5,872.1 L661.9,874.1 L667.2,875.4 L669.2,878.1 L665.2,880.1 L661.9,882.1 L659.9,878.8 L657.9,876.1Z" fill="#000" stroke="#000" stroke-width="2.6" stroke-linejoin="round" stroke-linecap="round"/>
<path d="M698.4,921.6 L701.1,920.9 L703.1,924.2 L705.7,927.6 L703.1,927.6 L700.4,925.6Z" fill="#000" stroke="#000" stroke-width="2.6" stroke-linejoin="round" stroke-linecap="round"/>
<path d="M525,777.5 L540,785 L543.3,791.7 L538.3,793.3 L534.2,789.2 L531.7,795.8 L535.8,799.2 L541.7,800 L538.3,802.5 L534.2,800.8 L530,798.3 L526.7,793.3 L528.3,788.3Z" fill="none" stroke="#000" stroke-width="4.3" stroke-linejoin="round" stroke-linecap="round"/>
<path d="M403.4,829.6 L406.6,823.2 L412,822.1 L414.2,825.4 L410.9,830.7 L406.6,834Z" fill="none" stroke="#000" stroke-width="4.3" stroke-linejoin="round" stroke-linecap="round"/>
<path d="M357.1,917 L360.1,916 L364.1,921 L363.1,924 L359.1,922Z" fill="#000" stroke="#000" stroke-width="2.6" stroke-linejoin="round" stroke-linecap="round"/>
<path d="M523.8,1040 L526.2,1031.2 L533.8,1025 L540,1018.8 L547.5,1013 L560,1010 L575,1005 L590,1003.8 L605,1000 L622.5,998.8 L630,1001.2 L637.5,1005 L643.8,1010 L646.2,1017.5 L641.2,1026.2 L635,1032.5 L630,1038.8 L620,1042.5 L610,1046.2 L597.5,1048.8 L587.5,1051.2 L572.5,1052 L560,1050 L547.5,1051.2 L541.2,1057 L537.5,1053.8 L530,1048.8 L525,1045Z" fill="none" stroke="#000" stroke-width="4.3" stroke-linejoin="round" stroke-linecap="round"/>
<path d="M1075,951.2 L1087.5,955 L1088.8,962.5 L1092.5,967.5 L1085,972.5 L1080,977.5 L1072.5,973.8 L1068.8,967.5 L1070,960Z" fill="none" stroke="#000" stroke-width="4.3" stroke-linejoin="round" stroke-linecap="round"/>
<path d="M1116.7,997.5 L1110,1000 L1103.3,1000.8 L1100,1005 L1096.7,1010 L1091.7,1013.3 L1090,1016.7 L1096.7,1020 L1101.7,1018.3 L1100,1013.3 L1103.3,1008.3 L1108.3,1003.3 L1113.3,1005 L1116.7,1010 L1114.2,1013.3 L1120,1017.5 L1124.2,1018.3 L1128.3,1016.7 L1131.7,1010 L1138.3,1008.3 L1146.7,1005.8 L1150.8,1003.3 L1146.7,1001.7 L1140,1000.8 L1137.5,997.5 L1140.8,995 L1146.7,993.3 L1150,989.2 L1156.7,985 L1161.7,988.3 L1163.3,992.5 L1168.3,997.5 L1173.3,994.2 L1180,992.5 L1183.3,990 L1176.7,987.5 L1170,984.2 L1169.2,980.8 L1175,982.5 L1181.7,981.7 L1188.3,976.7 L1195,973.3 L1196.7,968.3 L1194.2,964.2 L1198.3,960" fill="none" stroke="#000" stroke-width="4.3" stroke-linejoin="round" stroke-linecap="round"/>
<path d="M1046.6,1012.3 L1049.5,1008.7 L1054.5,1008 L1056.7,1010.9 L1053.8,1013.8 L1048.8,1013.8Z" fill="none" stroke="#000" stroke-width="4.3" stroke-linejoin="round" stroke-linecap="round"/>
<path d="M1030,1050.8 L1035,1046.7 L1040,1041.7 L1045,1035 L1050,1031.7 L1053.3,1026.7 L1050,1023.3 L1045.8,1026.7 L1041.7,1030.8 L1036.7,1032.5 L1035,1040 L1030,1046.7" fill="none" stroke="#000" stroke-width="4.3" stroke-linejoin="round" stroke-linecap="round"/>
<path d="M1053.3,1026.7 L1059.2,1028.3 L1065.8,1030 L1070.8,1025.8 L1074.2,1030 L1081.7,1030.8 L1088.3,1031.7 L1094.2,1035 L1096.7,1040 L1100.8,1042.5 L1099.2,1036.7 L1100.8,1030 L1103.3,1026.7 L1100,1024.2 L1096.7,1020" fill="none" stroke="#000" stroke-width="4.3" stroke-linejoin="round" stroke-linecap="round"/>
<path d="M1053.3,1026.7 L1056.7,1033.3 L1059.2,1041.7 L1055,1046.7 L1054.2,1052.5 L1060,1055 L1066.7,1057.5 L1070.8,1061.7 L1078.3,1062.5 L1085,1065.8 L1083.3,1071.7 L1090,1075 L1096.7,1078.3 L1103.3,1076.7 L1110,1080.8 L1115.8,1085 L1113.3,1091.7 L1111.7,1096.7 L1116.7,1103.3 L1121.7,1108.3 L1122.5,1111.7 L1116.7,1110 L1110,1107.5 L1103.3,1105.8 L1100,1110.8 L1095,1108.3 L1093.3,1103.3 L1090.8,1098.3 L1091.7,1091.7 L1088.3,1086.7 L1083.3,1085 L1081.7,1080 L1078.3,1075 L1071.7,1070 L1070,1076.7 L1068.3,1083.3 L1065.8,1091.7 L1067.5,1098.3 L1071.7,1103.3 L1072.5,1110 L1080,1113.3 L1086.7,1116.7 L1091.7,1121.7 L1095.8,1128.3 L1100,1131.7 L1095,1135 L1091.7,1141.7 L1088.3,1148.3 L1083.3,1153.3 L1086.7,1154.2 L1091.7,1150 L1096.7,1145 L1103.3,1141.7 L1108.3,1136.7 L1112.5,1130 L1116.7,1125 L1123.3,1126.7 L1128.3,1125 L1135,1120 L1143.3,1118.3 L1152.5,1119.2" fill="none" stroke="#000" stroke-width="4.3" stroke-linejoin="round" stroke-linecap="round"/>
<path d="M1071.7,1110.8 L1080,1108.3 L1093.3,1105.8 L1101.7,1104.2" fill="none" stroke="#000" stroke-width="4.3" stroke-linejoin="round" stroke-linecap="round"/>
<path d="M1165,1056.7 L1160,1060 L1153.3,1064.2 L1146.7,1068.3 L1144.2,1070 L1146.7,1076.7 L1151.7,1085 L1157.5,1091.7 L1155,1098.3 L1148.3,1101.7 L1140,1106.7 L1145,1111.7 L1151.7,1111.7 L1160,1107.5 L1168.3,1106.7 L1175,1108.3 L1180,1113.3 L1183.3,1120 L1180,1126.7 L1178.3,1133.3 L1175,1138.3 L1166.7,1140.8 L1161.7,1145 L1156.7,1148.3 L1150,1150 L1146.7,1145 L1143.3,1140 L1146.7,1135 L1153.3,1131.7 L1156.7,1126.7 L1153.3,1121.7 L1152.5,1119.2" fill="none" stroke="#000" stroke-width="4.3" stroke-linejoin="round" stroke-linecap="round"/>
<path d="M1165,1056.7 L1168.3,1061.7 L1176.7,1064.2 L1181.7,1065 L1184.2,1070 L1190,1073.3 L1190.8,1080 L1190,1088.3 L1190.8,1096.7 L1196.7,1101.7 L1205,1108.3 L1213.3,1113.3 L1219.2,1118.3 L1217.5,1125 L1216.7,1130 L1221.7,1133.3 L1215,1135 L1206.7,1138.3 L1198.3,1141.7 L1192.5,1144.2 L1186.7,1146.7 L1185.8,1151.7 L1190,1156.7 L1195,1153.3 L1192.5,1148.3" fill="none" stroke="#000" stroke-width="4.3" stroke-linejoin="round" stroke-linecap="round"/>
<path d="M1192.5,1144.2 L1213.3,1142.5 L1229.2,1141.3 L1223.3,1148.3 L1215,1154.2 L1210.8,1158.3 L1216.7,1162.5 L1219.2,1166.7" fill="none" stroke="#000" stroke-width="4.3" stroke-linejoin="round" stroke-linecap="round"/>
<path d="M1124.2,1160 L1133.3,1158.3 L1143.3,1156.7 L1150,1158.3 L1155,1163.3 L1156.7,1166.7" fill="none" stroke="#000" stroke-width="4.3" stroke-linejoin="round" stroke-linecap="round"/>
<path d="M1166.7,1165.8 L1175,1162.5 L1180.8,1160.8 L1185,1164.2" fill="none" stroke="#000" stroke-width="4.3" stroke-linejoin="round" stroke-linecap="round"/>
<path d="M1190,1156.7 L1196.7,1162.5 L1198.3,1166.7" fill="none" stroke="#000" stroke-width="4.3" stroke-linejoin="round" stroke-linecap="round"/>
<path d="M1097.5,1103.8 L1101.5,1102.4 L1104.2,1105.1 L1102.2,1108.4 L1098.8,1107.8Z" fill="#000" stroke="#000" stroke-width="2.6" stroke-linejoin="round" stroke-linecap="round"/>
<path d="M1071.6,1064.4 L1078.2,1063 L1083.6,1067 L1082.2,1072.4 L1078.2,1073.7 L1073.6,1070.4Z" fill="#000" stroke="#000" stroke-width="2.6" stroke-linejoin="round" stroke-linecap="round"/>
<path d="M914.9,1120.7 L918.9,1122.7 L920.2,1127.4 L926.9,1125.4 L933.7,1121.4 L937.7,1118.7 L939,1123.4 L943,1126.8 L944.4,1132.1 L943,1135.5 L948.4,1138.8 L953.1,1142.9 L949.8,1144.2 L943,1144.2 L936.3,1142.2 L931.6,1144.2 L932.3,1147.6 L935.7,1148.9 L934.3,1153.6 L931.6,1155.6 L926.9,1151.6 L922.9,1148.9 L917.6,1148.9 L912.9,1152.2 L907.5,1149.6 L904.1,1147.6 L906.2,1142.2 L909.5,1138.8 L912.9,1140.8 L914.2,1135.5 L911.5,1130.8 L912.2,1126.1Z" fill="none" stroke="#000" stroke-width="4.3" stroke-linejoin="round" stroke-linecap="round"/>
<path d="M941.7,1118.1 L944.6,1114.6 L948.7,1114.6 L951,1117.5 L949.2,1121 L945.2,1122.1 L942.3,1121Z" fill="none" stroke="#000" stroke-width="4" stroke-linejoin="round" stroke-linecap="round"/>
<path d="M949,1110 L951.3,1107.1 L954.8,1107.7 L956.5,1110.6 L954.2,1112.9 L950.8,1112.9Z" fill="none" stroke="#000" stroke-width="4" stroke-linejoin="round" stroke-linecap="round"/>
<path d="M957.2,1107.4 L959.4,1104.1 L962.6,1103.1 L963.1,1106.3 L961,1111.6 L958.9,1112.7Z" fill="#000" stroke="#000" stroke-width="2.6" stroke-linejoin="round" stroke-linecap="round"/>
<path d="M963,1100.1 L964,1094.7 L965.6,1092.6 L966.7,1096.9 L965.6,1101.2 L964,1103.3Z" fill="#000" stroke="#000" stroke-width="2.6" stroke-linejoin="round" stroke-linecap="round"/>
<path d="M971.4,1088.8 L975.2,1080.2 L979.5,1078 L981.6,1071.6 L983.2,1065.1 L985.9,1066.2 L985.9,1072.7 L983.8,1080.2 L982.7,1085.5 L979.5,1088.8 L975.2,1090.9Z" fill="#000" stroke="#000" stroke-width="2.6" stroke-linejoin="round" stroke-linecap="round"/>
<path d="M970.9,1098.5 L974.1,1097.4 L976.2,1100.6 L975.7,1106 L978.4,1107.1 L977.8,1111.4 L976.2,1114.6 L973,1112.4 L970.9,1107.1Z" fill="#000" stroke="#000" stroke-width="2.6" stroke-linejoin="round" stroke-linecap="round"/>
<path d="M983.3,1087.2 L992.7,1085.8 L996.7,1091.2 L990,1093.9 L983.3,1099.3 L984,1107.3 L979.3,1111.3" fill="none" stroke="#000" stroke-width="4.3" stroke-linejoin="round" stroke-linecap="round"/>
<path d="M978.9,1044.9 L982.4,1041.4 L988.2,1040.3 L991.1,1043.7 L988.2,1048.3 L982.4,1048.3Z" fill="none" stroke="#000" stroke-width="4.3" stroke-linejoin="round" stroke-linecap="round"/>
<path d="M1046,1012.6 L1049.4,1008.5 L1055.2,1008 L1058.1,1011.4 L1054.6,1014.3 L1048.3,1014.3Z" fill="none" stroke="#000" stroke-width="4.3" stroke-linejoin="round" stroke-linecap="round"/>
<path d="M1026.2,1053.7 L1031.6,1048.3 L1030.2,1042.9 L1035.6,1038.9 L1036.3,1032.2 L1043.6,1030.9 L1047.7,1025.5 L1052.4,1022.8 L1055.7,1025.5 L1053,1032.2 L1049,1038.9 L1045.7,1045.6 L1039.6,1052.3 L1032.9,1057.7 L1026.2,1060.4 L1020.2,1057.7 L1018.2,1054.3 L1022.2,1052.3Z" fill="none" stroke="#000" stroke-width="4.3" stroke-linejoin="round" stroke-linecap="round"/>
<path d="M1019.4,1054 L1022.6,1051.3 L1026.9,1052.9 L1029,1056.1 L1025.8,1059.4 L1021.5,1058.3Z" fill="#000" stroke="#000" stroke-width="2.6" stroke-linejoin="round" stroke-linecap="round"/>
<path d="M1282.2,862.3 L1275.5,862.3 L1271.7,864.6 L1268.9,867.9 L1269.8,870.3 L1273.6,869.4 L1282.2,867" fill="none" stroke="#000" stroke-width="4.3" stroke-linejoin="round" stroke-linecap="round"/>
<path d="M1282.2,872.7 L1273.6,875.5 L1269.8,877.4 L1264.2,875.5 L1262.3,878.8 L1261.8,884.5 L1259,887.3 L1262.7,890.2 L1266.1,895.9 L1268.4,902.5 L1266.1,906.3 L1260.4,910.1 L1257.1,913.9 L1259,918.6 L1261.3,921.4 L1266.1,921.4 L1265.1,926.2 L1267.5,929.5 L1265.6,934.7 L1264.2,938.5 L1260.4,940.4 L1261.8,944.2 L1265.1,946.1 L1268.9,942.3 L1273.6,937.5 L1282.2,933.8" fill="none" stroke="#000" stroke-width="4.3" stroke-linejoin="round" stroke-linecap="round"/>
<path d="M1282.2,935.2 L1273.6,940.4 L1270.8,946.1 L1266.1,949.8 L1261.3,948.9 L1258.5,944.2 L1257.5,941.8 L1253.8,941.8 L1250.9,944.2 L1250,941.8 L1245.2,939.9 L1240.5,940.4 L1237.7,942.3 L1233.9,940.9 L1230.1,941.8 L1226.3,946.1 L1222.5,948.9 L1216.8,949.8 L1209.2,949.4 L1205.5,952.7 L1201.7,954.6 L1198.8,953.6 L1196.9,959.3" fill="none" stroke="#000" stroke-width="4.3" stroke-linejoin="round" stroke-linecap="round"/>
<path d="M1282.2,943.2 L1276.5,951.7 L1273.6,955.5 L1274.6,959.3 L1273.6,963.1 L1276.5,965.9" fill="none" stroke="#000" stroke-width="4.3" stroke-linejoin="round" stroke-linecap="round"/>
<path d="M575.8,453 L580,452.5 L590,460 L596.7,465" fill="none" stroke="#000" stroke-width="4.3" stroke-linejoin="round" stroke-linecap="round"/>
<path d="M646.2,1017.5 L650,1015.5" fill="none" stroke="#000" stroke-width="4.3" stroke-linejoin="round" stroke-linecap="round"/>
<path d="M347.2,140.6L379,150.5L379,164.5M435,146L467.2,154.6M461.1,153L461.4,159.9M520.5,152L551.4,164.5M545.6,162.1L545,169.1M608,161L639.6,150.5M633.7,152.4L637.7,158.1M697.5,167L701.1,200.1M700.4,193.9L694.1,196.7M872,183.8L883.1,215.1M881,209.3L875.5,213.4M958.8,192L984.6,213M979.7,209.1L977.2,215.5M1045.8,200.8L1067,226.4M1063,221.6L1059.2,227.4M1132.5,209.5L1159.2,229.4M1154.2,225.7L1151.9,232.3M1219.2,219.2L1251.4,228M1245.4,226.3L1245.6,233.3M77,188.2L103.2,208.8L98.2,221.9M164.5,194.5L191.6,213.9L187.2,227.1M251.2,200.5L278.6,219.5L274.4,232.8M338,207.2L369.5,218.1M363.6,216.1L363.4,223.1M425.8,213.2L455.6,228L453.4,241.8M512.5,220.5L543.8,231.9L543.2,245.8M600,228.2L633.3,228.2M627.1,228.2L629.1,234.9M687,236.2L719.5,229.1M713.4,230.5L716.9,236.5M948,260L969.2,285.7M965.2,280.9L961.4,286.7M1034.2,268.8L1059,291.1M1054.3,286.9L1051.4,293.2M1120.8,277.5L1148.5,296M1143.3,292.5L1141.3,299.2M1207.5,287L1239.4,296.7M1233.4,294.8L1233.5,301.8M70,257L88,285L79.1,295.7M85.8,281.5L81.3,286.9M157,263L179.3,287.8L172.2,299.8M176.5,284.7L172.9,290.7M243.8,269.2L267.8,292.3L261.6,304.8M264.8,289.4L261.7,295.7M330.8,275.2L358.1,294.3L353.9,307.6M417,281.8L444.7,300.2L440.8,313.6M503.8,290L536.3,283M530.2,284.3L533.6,290.4M590.8,297L622.7,287.7M616.7,289.4L620.6,295.2M677,304.5L707.9,292.1M702.1,294.4L706.5,299.8M764.5,312L792.4,293.8M787.2,297.2L792.5,301.7M937.5,328L907.9,343.3M913.5,340.4L908.6,335.5M1023.8,337L1034,368.7M1032.1,362.7L1026.4,366.8M1109.5,345.5L1135.2,366.7M1130.4,362.7L1127.8,369.2M1195.5,354.5L1226.6,366.5M1220.8,364.2L1220.3,371.2M63,325.5L78.7,354.9L68.9,364.8M76.7,351.2L71.8,356.2M149.2,331.8L169.1,358.5L160.9,369.8M166.6,355.1L162.5,360.8M235.5,337.5L258.2,361.9L251.3,374M255.3,358.8L251.9,364.9M322,343.8L347.9,364.7L342.7,377.7M406.5,349.8L434.9,367.1L431.5,380.7M494.8,357.2L524,373.2L521.3,386.9M582.5,365.5L613,379M607.2,376.5L606.4,383.4M667.5,372.5L700.8,372.5M694.6,372.5L696.6,379.2M840,388L869.7,403M864.2,400.2L863,407.1M1012,405L1016.9,437.9M1016,431.8L1009.7,434.8M1098.2,413.8L1114.8,442.6M1111.7,437.2L1107,442.3M1183.8,422.5L1210.6,442.2M1205.6,438.5L1203.3,445.1M1269.8,432.2L1300.9,444M1295.1,441.8L1294.7,448.7M55.8,394.2L67.2,425.5L56.1,434M65.8,421.6L60.2,425.9M141.8,400L157.6,429.3L147.9,439.3M155.6,425.6L150.8,430.6M228,405.8L246,433.8L237,444.5M243.7,430.3L239.2,435.6M313.8,412L336.7,436.1L329.9,448.3M399.5,418L423.3,441.3L416.9,453.7M485.5,425L511,446.5L505.6,459.3M571.5,432.5L601.3,447.4L599.1,461.2M657.5,439.5L688.1,452.7M682.3,450.2L681.6,457.1M744.5,448L769.7,469.8M764.9,465.7L762.2,472.1M830,457.5L853.9,434.3M849.4,438.7L855.6,442M915,466.2L941.2,445.8M936.3,449.6L942.1,453.6M1002,473.2L994.8,505.8M996.1,499.7L989.2,500.2M1087.5,482L1098.6,513.4M1096.5,507.5L1091,511.7M1172.5,491.8L1198,513.1M1193.2,509.1L1190.6,515.6M1257.5,500.8L1288.5,512.8M1282.7,510.6L1282.2,517.5M48.8,462.5L59.1,494.1L47.8,502.2M57.8,490.2L52.2,494.2M134.5,468.2L144.8,499.9L133.4,508M143.5,496L137.8,500M220.5,474.5L235,504.5L224.8,514M233.2,500.7L228.1,505.5M306.2,480.8L324.8,508.4L316,519.3M322.5,505L318.1,510.4M391.2,487L411.7,513.3L403.7,524.8M477,493.8L498.9,518.8L491.7,530.7M563.2,501.5L591.4,519.3M586.1,515.9L584.3,522.7M648.2,509L674.2,529.7M669.4,525.9L666.8,532.4M734.2,516.8L763.9,531.9M758.3,529.1L757.1,536M990.5,542L1017.5,561.5M1012.4,557.8L1010.2,564.4M1075.5,550.8L1095.2,577.6M1091.5,572.5L1087.4,578.2M1160.5,559.5L1186.4,580.5M1181.5,576.5L1179,583M1245.8,569.5L1274.8,585.8M1269.3,582.8L1267.9,589.6M41.8,531.2L51.8,563L40.3,571M50.5,559L44.8,563M127,537L139,568.1L128,576.7M213,543.2L227.2,573.4L216.9,582.8M225.4,569.6L220.3,574.3M298,549.5L312.9,579.3L302.8,589M311,575.6L306,580.4M383,555.8L403.8,581.8L396,593.3M468.2,562.5L488.4,589L480.3,600.4M553.2,570L578.9,591.2L573.7,604.1M639.2,578L672.4,581.4M666.2,580.8L667.6,587.6M724.5,585.5L752.4,603.6M747.2,600.2L745.3,607M809.5,593.2L837.2,611.8M832,608.3L830,615M979.5,611.2L1002.4,587.1M998.1,591.6L1004.4,594.7M1066,620L1096.2,634M1090.6,631.4L1089.7,638.3M1148.8,628L1176,647.2M1170.9,643.6L1168.7,650.2M1233.8,637L1263,652.9M1257.5,649.9L1256.2,656.8M34.5,600L46.5,631.1L35.5,639.7M45,627.2L39.5,631.5M120,605.8L129.9,637.6L118.4,645.5M128.6,633.6L122.9,637.5M205,612L216.8,643.1L205.8,651.8M290,618L302.1,649L291.2,657.7M374.4,624.8L397,649.2L390.1,661.3M459.5,631.2L480.7,656.9L473,668.6M544.8,638.9L566.3,664.3M562.3,659.5L558.6,665.4M629.2,646.5L659.1,661.3M653.5,658.5L652.4,665.4M799.2,662.5L832.5,664.9M826.2,664.5L827.8,671.2M883.8,670.5L916.1,678.4M910,676.9L910.5,683.9M969.5,678.8L963.9,711.6M965,705.4L958,706.4M1137.5,697.2L1162.7,719.1M1157.9,715L1155.2,721.4M1222,706L1248.5,726.2M1243.5,722.4L1241.1,729M27.5,669L39.6,700L28.7,708.7M38.1,696.1L32.7,700.5M112.5,675.2L120,707.7L108,714.8M119.1,703.6L113.1,707.2M197.5,681L206.2,713.2L194.4,720.6M281.8,687.2L292.6,718.7L281.3,727M366.2,693.8L381.2,723.5L371.2,733.2M451.2,700.2L473.7,724.8L466.7,736.9M535.8,707.5L558.4,731.9M554.2,727.3L550.7,733.4M620,715L649.9,729.6M644.3,726.9L643.3,733.8M704.8,723.2L728.1,747M723.7,742.6L720.4,748.7M790,731.2L758.4,741.8M764.3,739.8L760.3,734.1M874.2,739.5L867.8,772.2M869,766L862,766.8M1127.5,765.5L1128.5,798.8M1128.3,792.5L1121.7,794.8M1211.2,774.2L1231.6,800.6M1227.8,795.7L1223.8,801.4M105.8,744.5L112.5,777.1L100.3,783.9M111.7,773L105.6,776.4M190.5,750.5L198.1,782.9L186.1,790M197.1,778.9L191.1,782.4M274.2,756.2L284.7,787.9L273.4,796M358.8,762.8L371.2,793.6L360.4,802.5M442.5,769.2L462.4,795.9L454.3,807.2M526.5,777.2L552.4,798.1M547.6,794.2L545,800.7M695,791.8L727.5,799.2M721.4,797.8L721.9,804.7M948,816.2L947,849.5M947.2,843.3L940.5,845.2M1031.7,824.2L1035.9,857.2M1035.2,851L1028.8,853.9M1115.2,834.2L1124.8,866.1M1123,860.2L1117.2,864.1M1199,844L1222.2,867.9M1217.8,863.4L1214.5,869.6M98.2,813L105.6,845.5L93.5,852.5M104.7,841.4L98.6,844.9M182.5,819.2L189.9,851.7L177.9,858.7M189,847.7L183,851.2M266.8,825L274,857.5L261.9,864.5M350.5,832L359,864.2L347.2,871.6M434.5,838.8L443.4,870.8L431.7,878.4M518.2,845.6L545.3,864.9M540.2,861.3L538.1,867.9M686.5,861L683.6,894.2M684.1,888L677.3,889.4M770.6,868.8L771.7,902.1M771.5,895.8L764.9,898.1M854,877.2L852.5,910.5M852.8,904.3L846.1,906.1M937.5,885.5L940.6,918.7M940,912.4L933.6,915.1M1020.8,893.8L1030,925.7M1028.3,919.7L1022.4,923.6M1104.2,903L1122.9,930.6M1119.4,925.4L1115,930.9M1187.2,912.7L1214.2,932.2M1209.2,928.6L1206.9,935.2M1269.8,923.3L1302.2,915.7M1296.1,917.1L1299.7,923.1M91.8,882.5L94.3,915.7L81.3,920.9M94,911.6L87.5,914.1M175,888.2L181.8,920.8L169.6,927.6M181,916.8L174.9,920.2M258.8,894.2L264.8,927L252.5,933.5M342.5,901.5L346.7,934.5L334,940.3M426.2,908L431.2,940.9L418.6,947M510,915L518,947.3L506.1,954.6M592.5,922.5L625.1,929.4M619,928.1L619.6,935M677,930.2L677.2,963.5M677.2,957.3L670.6,959.4M760.2,937.9L769.2,970M767.5,964L761.6,967.8M844.2,946L842.6,979.3M842.9,973L836.1,974.8M927.5,954.5L930.6,987.7M930.1,981.4L923.6,984.1M1010.2,963L1024.8,993M1022,987.4L1017,992.1M1093.5,970.5L1115.3,995.6M1111.2,990.9L1107.6,996.9M1176.8,983L1202.4,1004.2M1197.6,1000.3L1195,1006.7M1258.5,991.5L1291.6,995.4M1285.4,994.7L1286.6,1001.6M83.8,952L85.8,985.2L72.7,990.2M85.5,981.1L79,983.6M167.5,958L173.4,990.8L161,997.2M172.7,986.7L166.5,989.9M251.2,963.8L255.7,996.7L243.1,1002.7M334.2,970L338.2,1003.1L325.4,1008.8M418.2,977L420.7,1010.2L407.7,1015.3M502,984.2L511.7,1016.1L500.2,1024M584.5,992.5L613.6,976.3M608.2,979.4L613.2,984.2M668.1,999L669.7,1032.3L656.6,1037.1M750.8,1007.5L751.2,1040.8M751.2,1034.6L744.5,1036.7M833.8,1015.5L835,1048.8M834.7,1042.5L828.1,1044.9M916.8,1023.9L921.2,1056.9M920.4,1050.7L914.1,1053.7M999.1,1032.7L1024.5,1054.2M1019.8,1050.2L1017.1,1056.6M1082.2,1041.8L1107.9,1063M1103.1,1059L1100.5,1065.5M1247,1060.8L1280.3,1060.5M1274.1,1060.6L1276.2,1067.2M77.5,1021.8L80.7,1054.9L67.9,1060.3M80.3,1050.7L73.9,1053.5M160.5,1027L165,1060L152.4,1065.9M243.8,1033.2L248.7,1066.2L236.1,1072.3M326.8,1040L331.6,1072.9L319.1,1079M410,1046.2L412.4,1079.5L399.4,1084.6M492.5,1053.2L496.2,1086.3L483.4,1092M574.5,1060.8L601.3,1080.5M596.3,1076.8L594,1083.4M658.2,1068.2L664,1101.1M662.9,1094.9L656.7,1098.1M741.2,1076.2L744.1,1109.4M743.6,1103.2L737.1,1105.9M823.8,1085L826.9,1118.2M826.3,1111.9L819.9,1114.6M906.8,1093.2L914.8,1125.5M913.3,1119.5L907.4,1123.1M989.2,1102.3L993.8,1135.3M992.9,1129.1L986.6,1132.1M1073,1111L1105.4,1103.4M1099.3,1104.8L1102.9,1110.8M1152.5,1120L1185.2,1113.7M1179.1,1114.9L1182.4,1121.1M70,1091.2L73.8,1124.3L61,1130M153,1096.2L156.9,1129.3L144.2,1135M236.2,1102.5L242.3,1135.2L230,1141.8M318.8,1109.2L323.7,1142.2L311.1,1148.3M401.2,1115.8L405.4,1148.8L392.7,1154.6M484.2,1122.5L485.5,1155.8L472.3,1160.4M566.2,1130L574.6,1162.2M573,1156.2L567.1,1159.9M648.8,1138L669.3,1164.2M665.5,1159.3L661.5,1165M731.8,1145.8L738.4,1178.4M737.1,1172.3L731,1175.6M814.5,1154.2L817.9,1187.4M817.3,1181.2L810.9,1183.9M896.2,1163L899.9,1196.1M899.2,1189.9L892.8,1192.7M63,1160L64.5,1193.3L51.3,1198" fill="none" stroke="#000" stroke-width="4.3" stroke-linejoin="round" stroke-linecap="round"/>
<circle cx="785" cy="176" r="5" fill="none" stroke="#000" stroke-width="4.3"/>
<circle cx="774.5" cy="243.8" r="5" fill="none" stroke="#000" stroke-width="4.3"/>
<circle cx="861.2" cy="252" r="5" fill="none" stroke="#000" stroke-width="4.3"/>
<circle cx="850.8" cy="320" r="5" fill="none" stroke="#000" stroke-width="4.3"/>
<circle cx="754.5" cy="380.5" r="5" fill="none" stroke="#000" stroke-width="4.3"/>
<circle cx="926.8" cy="396.8" r="5" fill="none" stroke="#000" stroke-width="4.3"/>
<circle cx="820" cy="525.5" r="5" fill="none" stroke="#000" stroke-width="4.3"/>
<circle cx="905.5" cy="533.8" r="5" fill="none" stroke="#000" stroke-width="4.3"/>
<circle cx="895" cy="602" r="5" fill="none" stroke="#000" stroke-width="4.3"/>
<circle cx="714.8" cy="654.6" r="5" fill="none" stroke="#000" stroke-width="4.3"/>
<circle cx="1053.8" cy="688" r="5" fill="none" stroke="#000" stroke-width="4.3"/>
<circle cx="958.2" cy="748.5" r="5" fill="none" stroke="#000" stroke-width="4.3"/>
<circle cx="1042.5" cy="757" r="5" fill="none" stroke="#000" stroke-width="4.3"/>
<circle cx="611.8" cy="784.8" r="5" fill="none" stroke="#000" stroke-width="4.3"/>
<circle cx="780" cy="800.8" r="5" fill="none" stroke="#000" stroke-width="4.3"/>
<circle cx="866" cy="807.5" r="5" fill="none" stroke="#000" stroke-width="4.3"/>
<circle cx="602.3" cy="853.8" r="5" fill="none" stroke="#000" stroke-width="4.3"/>
<circle cx="1165" cy="1051.5" r="5" fill="none" stroke="#000" stroke-width="4.3"/>
<circle cx="1236.2" cy="1130" r="5" fill="none" stroke="#000" stroke-width="4.3"/>
<path d="M109.5,150V153.5M294,150V153.5M1075.5,157L1080,150M1079,150L1083.5,154M1170,150V159.5M1170,152.5L1176,154.5M1231.5,153L1239,151.5M1261,150V153" stroke="#000" stroke-width="3.3" fill="none" stroke-linecap="round"/>
<path d="M186.6,150.5V1166.4M342.9,150.5V1166.4M499.2,150.5V1166.4M655.5,150.5V1166.4M811.8,150.5V1166.4M968.1,150.5V1166.4M1124.5,150.5V1166.4M30.4,307.5H1280.5M30.4,463.7H1280.5M30.4,619.9H1280.5M30.4,776.1H1280.5M30.4,932.3H1280.5M30.4,1088.5H1280.5" stroke="#b0b0b0" stroke-width="3.3" fill="none"/>
</g>
<rect x="30.4" y="150.5" width="1250" height="1015.9" fill="none" stroke="#000" stroke-width="3.3"/>
<rect x="1295.4" y="1102.2" width="55.1" height="111.5" fill="#6826fe"/>
<rect x="1295.4" y="991.3" width="55.1" height="111.5" fill="#3473f8"/>
<rect x="1295.4" y="880.5" width="55.1" height="111.5" fill="#00b5eb"/>
<rect x="1295.4" y="769.6" width="55.1" height="111.5" fill="#32e3da"/>
<rect x="1295.4" y="658.7" width="55.1" height="111.5" fill="#66fcc2"/>
<rect x="1295.4" y="547.8" width="55.1" height="111.5" fill="#99fca6"/>
<rect x="1295.4" y="436.9" width="55.1" height="111.5" fill="#cce385"/>
<rect x="1295.4" y="326.1" width="55.1" height="111.5" fill="#ffb360"/>
<rect x="1295.4" y="215.2" width="55.1" height="111.5" fill="#ff733b"/>
<rect x="1295.4" y="104.3" width="55.1" height="111.5" fill="#ff2613"/>
<rect x="1295.4" y="104.6" width="55.1" height="1108.8" fill="none" stroke="#000" stroke-width="3.3"/>
<path d="M1350.5,1213.4h15.2M1350.5,1102.5h15.2M1350.5,991.6h15.2M1350.5,880.8h15.2M1350.5,769.9h15.2M1350.5,659h15.2M1350.5,548.1h15.2M1350.5,437.2h15.2M1350.5,326.4h15.2M1350.5,215.5h15.2M1350.5,104.6h15.2" stroke="#000" stroke-width="3.3" fill="none"/>
<text x="1380" y="1227.8" font-size="43.3" textLength="117.8" lengthAdjust="spacingAndGlyphs">0.001</text>
<text x="1380" y="1116.9" font-size="43.3" textLength="117.8" lengthAdjust="spacingAndGlyphs">0.003</text>
<text x="1380" y="1006" font-size="43.3" textLength="117.8" lengthAdjust="spacingAndGlyphs">0.006</text>
<text x="1380" y="895.2" font-size="43.3" textLength="91.3" lengthAdjust="spacingAndGlyphs">0.02</text>
<text x="1380" y="784.3" font-size="43.3" textLength="91.3" lengthAdjust="spacingAndGlyphs">0.04</text>
<text x="1380" y="673.4" font-size="43.3" textLength="64.8" lengthAdjust="spacingAndGlyphs">0.1</text>
<text x="1380" y="562.5" font-size="43.3" textLength="64.8" lengthAdjust="spacingAndGlyphs">0.3</text>
<text x="1380" y="451.6" font-size="43.3" textLength="64.8" lengthAdjust="spacingAndGlyphs">0.6</text>
<text x="1380" y="340.8" font-size="43.3" textLength="25" lengthAdjust="spacingAndGlyphs">2</text>
<text x="1380" y="229.9" font-size="43.3" textLength="25" lengthAdjust="spacingAndGlyphs">4</text>
<text x="1380" y="119" font-size="43.3" textLength="51.5" lengthAdjust="spacingAndGlyphs">10</text>
<text x="1305.5" y="78" font-size="50" textLength="113" lengthAdjust="spacingAndGlyphs">ppm</text>
<text x="370.2" y="68.3" font-size="53" textLength="572.4" lengthAdjust="spacingAndGlyphs">WRF-Tracer CO_IND sfc</text>
<text x="100.3" y="126" font-size="53" textLength="1122" lengthAdjust="spacingAndGlyphs">Init 2024-03-20 1200 Time 2024-03-21 1900</text>
</svg></body></html>
